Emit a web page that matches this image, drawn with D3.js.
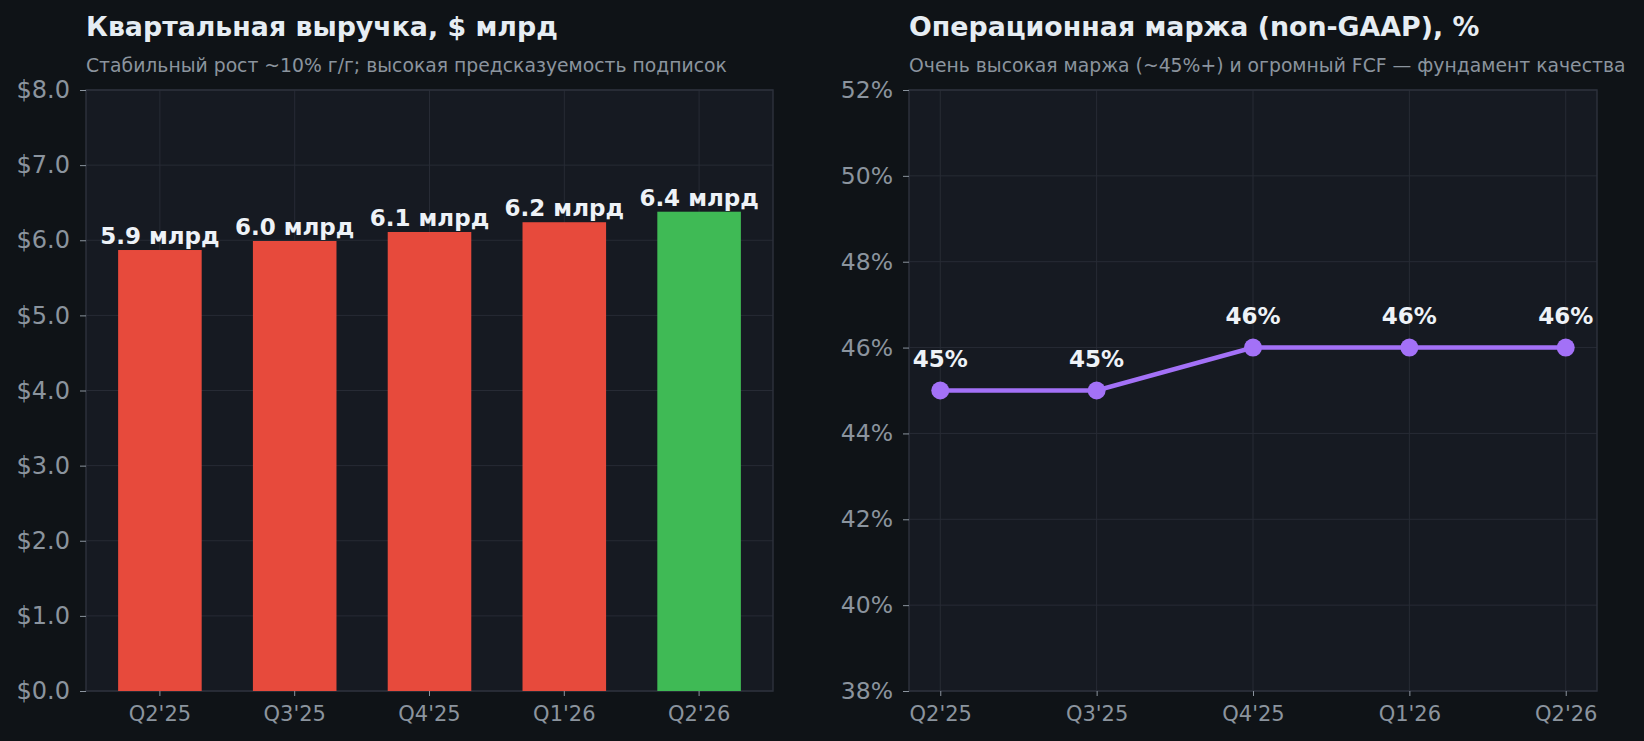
<!DOCTYPE html>
<html>
<head>
    <title>revenue & margin</title>
    <style>
        body {
            background: #0e1117;
            margin: 0;
            padding: 0;
            font-family: "DejaVu Sans", sans-serif;
        }
        svg text { font-family: "DejaVu Sans", sans-serif; }
    </style>
</head>
<body>
    <svg id="chart" width="1644" height="741"></svg>

    <script src="https://d3js.org/d3.v7.min.js"></script>
    <script>
        // data
        const quarters = ["Q2'25", "Q3'25", "Q4'25", "Q1'26", "Q2'26"];
        const revenue = [5.87, 5.99, 6.11, 6.24, 6.38];
        const revenueColors = ["#e74a3c", "#e74a3c", "#e74a3c", "#e74a3c", "#3fba55"];
        const revenueTicks = [0, 1, 2, 3, 4, 5, 6, 7, 8];
        const margin = [45, 45, 46, 46, 46];
        const marginTicks = [38, 40, 42, 44, 46, 48, 50, 52];

        const titleLeft = "Квартальная выручка, $ млрд";
        const subLeft = "Стабильный рост ~10% г/г; высокая предсказуемость подписок";
        const titleRight = "Операционная маржа (non-GAAP), %";
        const subRight = "Очень высокая маржа (~45%+) и огромный FCF — фундамент качества";

        const svg = d3.select('#chart');
        svg.append('rect').attr('width', 1644).attr('height', 741).attr('fill', '#0f1317');

        const plotTop = 90, plotBottom = 691;

        function panelFrame(x0, x1, title, sub) {
            const g = svg.append('g');
            g.append('rect')
                .attr('x', x0).attr('y', plotTop)
                .attr('width', x1 - x0).attr('height', plotBottom - plotTop)
                .attr('fill', '#161a22');
            g.append('text')
                .attr('x', x0).attr('y', 36)
                .attr('fill', '#e6edf3')
                .style('font-size', '26.8px')
                .style('font-weight', 'bold')
                .text(title);
            g.append('text')
                .attr('x', x0).attr('y', 72)
                .attr('fill', '#8b949e')
                .style('font-size', '18.8px')
                .text(sub);
            return g;
        }

        function styleAxis(sel) {
            sel.select('.domain').remove();
            sel.selectAll('.tick line').attr('stroke', '#8b949e');
            sel.selectAll('.tick text')
                .attr('fill', '#8b949e')
                .style('font-family', '"DejaVu Sans", sans-serif');
        }

        function gridAndSpines(g, x0, x1, xs, ys) {
            // grid
            ys.forEach(v => {
                g.append('line')
                    .attr('x1', x0).attr('x2', x1)
                    .attr('y1', v).attr('y2', v)
                    .attr('stroke', '#272b35').attr('stroke-width', 1);
            });
            xs.forEach(v => {
                g.append('line')
                    .attr('x1', v).attr('x2', v)
                    .attr('y1', plotTop).attr('y2', plotBottom)
                    .attr('stroke', '#272b35').attr('stroke-width', 1);
            });
            // spines
            g.append('rect')
                .attr('x', x0).attr('y', plotTop)
                .attr('width', x1 - x0).attr('height', plotBottom - plotTop)
                .attr('fill', 'none')
                .attr('stroke', '#2c313b').attr('stroke-width', 1.5);
        }

        // ---- left: revenue bars ----
        const lx0 = 86, lx1 = 773;
        const gl = panelFrame(lx0, lx1, titleLeft, subLeft);

        const xBand = d3.scaleBand()
            .domain(quarters)
            .range([lx0 + 6.5, lx1 - 6.5])
            .paddingInner(0.38)
            .paddingOuter(0.19);
        const yRev = d3.scaleLinear().domain([0, 8]).range([plotBottom, plotTop]);

        gridAndSpines(gl, lx0, lx1,
            quarters.map(q => xBand(q) + xBand.bandwidth() / 2),
            revenueTicks.map(yRev));

        gl.selectAll('.bar')
            .data(revenue)
            .enter().append('rect')
            .attr('class', 'bar')
            .attr('x', (d, i) => xBand(quarters[i]))
            .attr('width', xBand.bandwidth())
            .attr('y', d => yRev(d))
            .attr('height', d => plotBottom - yRev(d))
            .attr('fill', (d, i) => revenueColors[i]);

        gl.selectAll('.val')
            .data(revenue)
            .enter().append('text')
            .attr('x', (d, i) => xBand(quarters[i]) + xBand.bandwidth() / 2)
            .attr('y', d => yRev(d) - 6)
            .attr('text-anchor', 'middle')
            .attr('fill', '#eef2f7')
            .style('font-size', '23px')
            .style('font-weight', 'bold')
            .text(d => d.toFixed(1) + ' млрд');

        gl.append('g')
            .attr('transform', `translate(${lx0},0)`)
            .call(d3.axisLeft(yRev).tickValues(revenueTicks)
                .tickFormat(d => '$' + d.toFixed(1)).tickSize(6).tickPadding(10))
            .call(styleAxis)
            .selectAll('.tick text').style('font-size', '24px');

        gl.append('g')
            .attr('transform', `translate(0,${plotBottom})`)
            .call(d3.axisBottom(xBand).tickSize(5).tickPadding(10))
            .call(styleAxis)
            .selectAll('.tick text').style('font-size', '21px');

        // ---- right: margin line ----
        const rx0 = 909, rx1 = 1597;
        const gr = panelFrame(rx0, rx1, titleRight, subRight);

        const xPt = d3.scalePoint().domain(quarters).range([rx0, rx1]).padding(0.2);
        const yMar = d3.scaleLinear().domain([38, 52]).range([plotBottom, plotTop]);

        gridAndSpines(gr, rx0, rx1, quarters.map(xPt), marginTicks.map(yMar));

        const line = d3.line()
            .x((d, i) => xPt(quarters[i]))
            .y(d => yMar(d));

        gr.append('path')
            .datum(margin)
            .attr('d', line)
            .attr('fill', 'none')
            .attr('stroke', '#a371f7')
            .attr('stroke-width', 4.5);

        gr.selectAll('.dot')
            .data(margin)
            .enter().append('circle')
            .attr('cx', (d, i) => xPt(quarters[i]))
            .attr('cy', d => yMar(d))
            .attr('r', 9)
            .attr('fill', '#a371f7');

        gr.selectAll('.mval')
            .data(margin)
            .enter().append('text')
            .attr('x', (d, i) => xPt(quarters[i]))
            .attr('y', d => yMar(d) - 24)
            .attr('text-anchor', 'middle')
            .attr('fill', '#eef2f7')
            .style('font-size', '23px')
            .style('font-weight', 'bold')
            .text(d => d + '%');

        gr.append('g')
            .attr('transform', `translate(${rx0},0)`)
            .call(d3.axisLeft(yMar).tickValues(marginTicks)
                .tickFormat(d => d + '%').tickSize(6).tickPadding(10))
            .call(styleAxis)
            .selectAll('.tick text').style('font-size', '23.5px');

        gr.append('g')
            .attr('transform', `translate(0,${plotBottom})`)
            .call(d3.axisBottom(xPt).tickSize(5).tickPadding(10))
            .call(styleAxis)
            .selectAll('.tick text').style('font-size', '21px');
    </script>
</body>
</html>
